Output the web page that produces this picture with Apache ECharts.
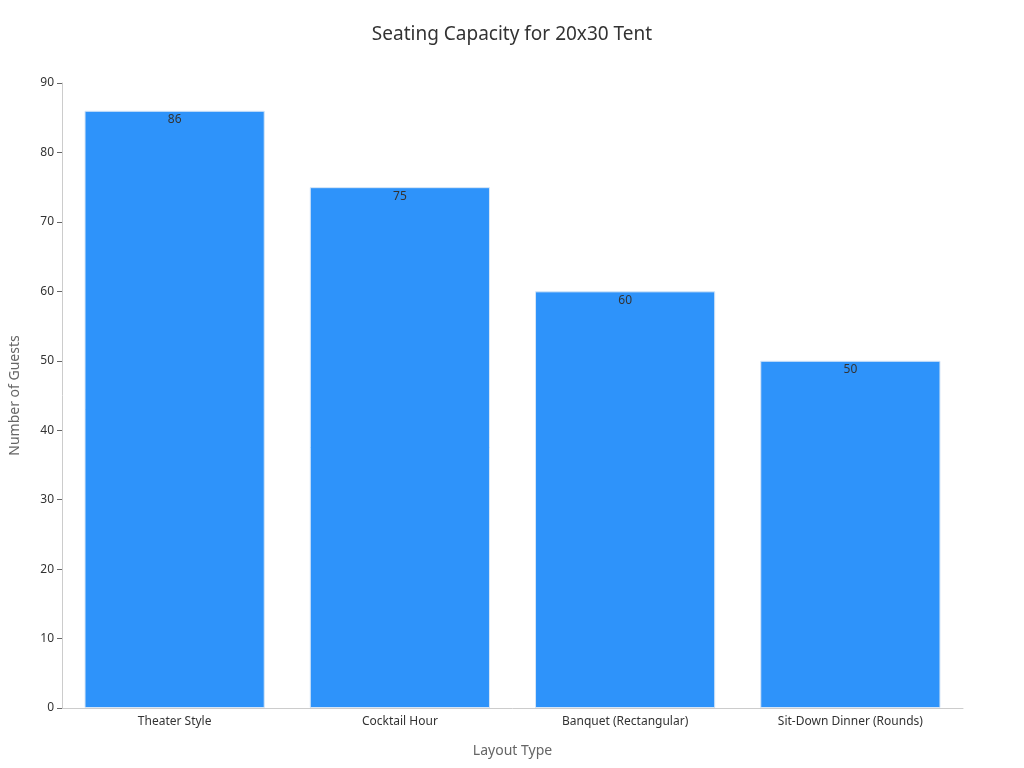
<!DOCTYPE html>
<html><head><meta charset="utf-8">
<script src="https://cdn.jsdelivr.net/npm/echarts@6/dist/echarts.min.js"></script>
<style>html,body{margin:0;padding:0;background:#fff}#c{width:1024px;height:768px}</style>
</head><body><div id="c"></div>
<script>
const categories = ["Theater Style","Cocktail Hour","Banquet (Rectangular)","Sit-Down Dinner (Rounds)"];
const guests = [86,75,60,50];
const chart = echarts.init(document.getElementById('c'));
chart.setOption({
  textStyle:{fontFamily:'"Noto Sans", sans-serif'},
  title:{text:'Seating Capacity for 20x30 Tent',left:'center',top:20,textStyle:{fontSize:19,fontWeight:'normal',color:'#333'}},
  grid:{left:60,right:61,top:83,bottom:60},
  xAxis:{type:'category',data:categories,name:'Layout Type',nameLocation:'middle',nameGap:36,
    nameTextStyle:{fontSize:14,color:'#666'},
    axisLine:{lineStyle:{color:'#ccc'}},axisTick:{alignWithLabel:true,lineStyle:{color:'#666'}},
    axisLabel:{color:'#333',fontSize:12}},
  yAxis:{type:'value',min:0,max:90,interval:10,name:'Number of Guests',nameLocation:'middle',nameGap:40,
    nameTextStyle:{fontSize:14,color:'#666'},
    axisLine:{show:true,lineStyle:{color:'#ccc'}},axisTick:{show:true,lineStyle:{color:'#666'}},
    axisLabel:{color:'#333',fontSize:12},splitLine:{show:false}},
  series:[{type:'bar',data:guests,barCategoryGap:'20%',
    itemStyle:{color:'#2E93FA',borderColor:'#d6e6f7',borderWidth:1},
    label:{show:true,position:'insideTop',color:'#333',fontSize:12,distance:3}}]
});
</script></body></html>
